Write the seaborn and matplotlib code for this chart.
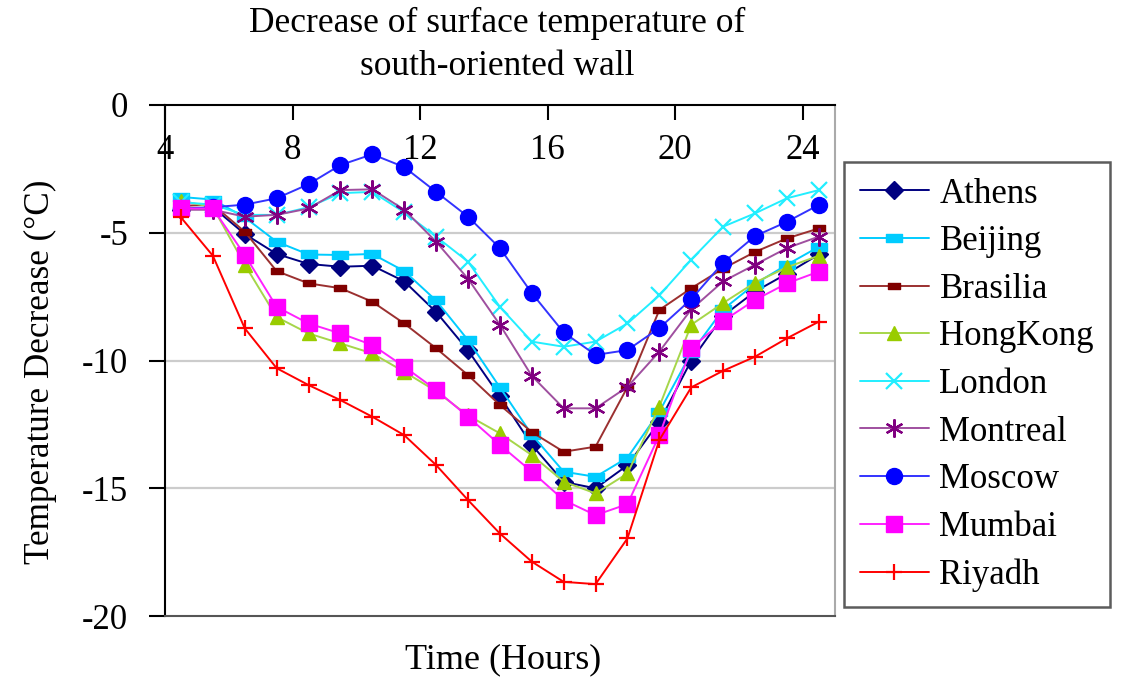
import numpy as np
import pandas as pd
import matplotlib
matplotlib.use("Agg")
import matplotlib.pyplot as plt
from matplotlib.path import Path
import seaborn as sns

# Hours of the day (mid-hour samples)
hours = [4.5, 5.5, 6.5, 7.5, 8.5, 9.5, 10.5, 11.5, 12.5, 13.5, 14.5,
         15.5, 16.5, 17.5, 18.5, 19.5, 20.5, 21.5, 22.5, 23.5, 24.5]

athens = [-4.1, -4.0, -5.05, -5.83, -6.22, -6.33, -6.29, -6.9, -8.1, -9.6, -11.4,
          -13.3, -14.75, -15.0, -14.1, -12.4, -10.0, -8.25, -7.3, -6.6, -5.85]
beijing = [-3.6, -3.7, -4.4, -5.35, -5.85, -5.87, -5.83, -6.5, -7.65, -9.2, -11.05,
           -12.9, -14.35, -14.55, -13.8, -12.0, -9.7, -8.0, -7.0, -6.25, -5.55]
brasilia = [-3.95, -3.9, -4.96, -6.5, -6.98, -7.17, -7.7, -8.55, -9.52, -10.57, -11.74,
            -12.8, -13.57, -13.37, -11.04, -8.02, -7.17, -6.4, -5.75, -5.22, -4.83]
hongkong = [-3.75, -4.0, -6.25, -8.3, -8.94, -9.33, -9.72, -10.44, -11.2, -12.15, -12.85,
            -13.7, -14.74, -15.2, -14.42, -11.8, -8.6, -7.75, -6.95, -6.35, -5.9]
london = [-3.8, -3.9, -4.3, -4.3, -4.0, -3.45, -3.4, -4.2, -5.15, -6.13, -7.9,
          -9.26, -9.46, -9.26, -8.55, -7.45, -6.05, -4.76, -4.24, -3.65, -3.33]
montreal = [-4.1, -4.1, -4.37, -4.3, -4.05, -3.33, -3.3, -4.1, -5.35, -6.8, -8.6,
            -10.6, -11.87, -11.87, -11.03, -9.65, -8.0, -6.9, -6.25, -5.6, -5.15]
moscow = [-4.05, -4.0, -3.9, -3.65, -3.1, -2.35, -1.93, -2.43, -3.4, -4.37, -5.6,
          -7.36, -8.9, -9.78, -9.59, -8.73, -7.6, -6.17, -5.13, -4.57, -3.91]
mumbai = [-4.05, -4.05, -5.87, -7.9, -8.55, -8.94, -9.39, -10.24, -11.15, -12.2, -13.3,
          -14.35, -15.46, -16.05, -15.62, -12.92, -9.52, -8.45, -7.63, -6.98, -6.52]
riyadh = [-4.4, -5.9, -8.74, -10.3, -10.96, -11.55, -12.2, -12.92, -14.09, -15.46, -16.77,
          -17.87, -18.66, -18.75, -16.96, -13.11, -11.05, -10.4, -9.85, -9.13, -8.48]

cities = ["Athens", "Beijing", "Brasilia", "HongKong", "London",
          "Montreal", "Moscow", "Mumbai", "Riyadh"]
values = [athens, beijing, brasilia, hongkong, london,
          montreal, moscow, mumbai, riyadh]

x_ticks = [4, 8, 12, 16, 20, 24]
y_ticks = [0, -5, -10, -15, -20]


def rect_marker(w, h):
    """Excel-like rectangle marker."""
    verts = [(-w, -h), (w, -h), (w, h), (-w, h), (-w, -h)]
    return Path(verts, [Path.MOVETO, Path.LINETO, Path.LINETO, Path.LINETO, Path.CLOSEPOLY])


# city: (line colour, marker colour, marker, marker size, edge width)
styles = {
    "Athens": ("#000080", "#000080", "D", 9, 1.0),
    "Beijing": ("#00CCFF", "#00CCFF", rect_marker(1.0, 0.45), 12, 1.0),
    "Brasilia": ("#9B3030", "#800000", rect_marker(1.0, 0.6), 8, 1.0),
    "HongKong": ("#A6D64A", "#99CC00", "^", 10.5, 1.0),
    "London": ("#22EEFF", "#22EEFF", "x", 11, 1.6),
    "Montreal": ("#9F4F9F", "#800080", (6, 2, 0), 13, 1.6),
    "Moscow": ("#3333FF", "#0000FF", "o", 11.5, 1.0),
    "Mumbai": ("#FF22FF", "#FF00FF", "s", 11, 1.0),
    "Riyadh": ("#FF0000", "#FF0000", "+", 12, 1.6),
}

sns.set_style("white")
plt.rcParams["font.family"] = ["Liberation Serif", "DejaVu Serif"]
plt.rcParams["text.color"] = "black"
plt.rcParams["xtick.color"] = "black"
plt.rcParams["ytick.color"] = "black"
plt.rcParams["axes.unicode_minus"] = False

fig = plt.figure(figsize=(11.25, 6.8), dpi=100)
ax = fig.add_axes([0.1467, 0.094, 0.5953, 0.7516])

for city, vals in zip(cities, values):
    line_c, mark_c, marker, msize, mew = styles[city]
    df = pd.DataFrame({"hour": hours, "decrease": vals})
    sns.lineplot(
        data=df, x="hour", y="decrease", ax=ax,
        color=line_c, linewidth=1.4, label=city,
        marker=marker, markersize=msize,
        markerfacecolor=mark_c, markeredgecolor=mark_c, markeredgewidth=mew,
    )

ax.set_xlim(4, 25)
ax.set_ylim(-20, 0)
ax.set_xticks(x_ticks)
ax.set_yticks(y_ticks)
ax.set_xlabel("")
ax.set_ylabel("")

# Horizontal axis crosses at 0 (top), frame bottom at -20
ax.spines["bottom"].set_position(("data", 0))
ax.spines["top"].set_position(("data", -20))
ax.spines["bottom"].set_color("black")
ax.spines["left"].set_color("black")
ax.spines["top"].set_color("#555555")
ax.spines["right"].set_color("#AAAAAA")
for side in ["bottom", "left", "top", "right"]:
    ax.spines[side].set_linewidth(1.5)

ax.tick_params(axis="x", direction="out", length=11, width=1.5, pad=10,
               labelsize=25, bottom=True, top=False)
ax.tick_params(axis="y", direction="out", length=11.5, width=1.5, pad=15,
               labelsize=25, left=True, right=False)

for y in [-5, -10, -15]:
    ax.axhline(y, color="#CCCCCC", linewidth=1.6, zorder=0)

fig.text(0.442, 0.934, "Decrease of surface temperature of\nsouth-oriented wall",
         ha="center", va="center", fontsize=25.5, linespacing=1.38)
fig.text(0.447, 1 - 660 / 680, "Time (Hours)", ha="center", va="center", fontsize=26)
fig.text(40 / 1125, 1 - 372 / 680, "Temperature Decrease (°C)", ha="center",
         va="center", rotation=90, fontsize=25.3)

handles, labels = ax.get_legend_handles_labels()
leg = ax.legend(
    handles, labels, loc="upper left", bbox_to_anchor=(844 / 1125, 1 - 162 / 680),
    bbox_transform=fig.transFigure, borderaxespad=0, fontsize=25,
    frameon=True, fancybox=False, edgecolor="#333333",
    handlelength=2.0, handletextpad=0.3, labelspacing=0.42, borderpad=0.45,
)
leg.get_frame().set_linewidth(1.8)

fig.savefig("out.png", dpi=100)
plt.close(fig)
